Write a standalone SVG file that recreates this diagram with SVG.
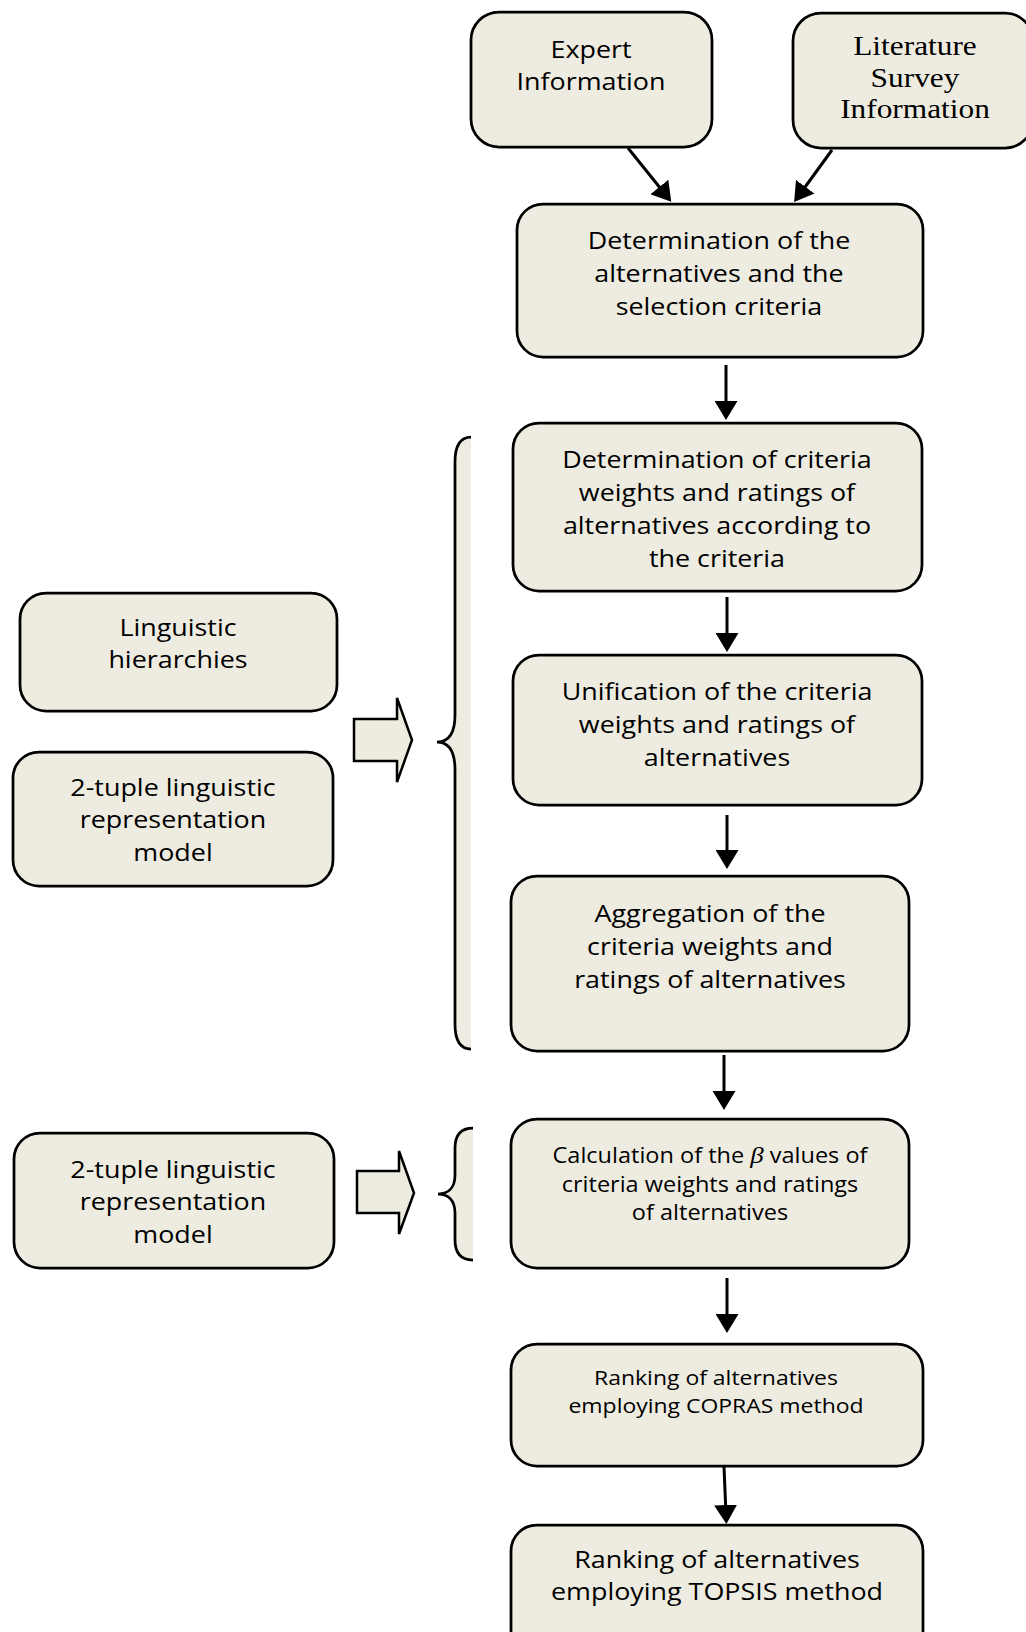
<svg xmlns="http://www.w3.org/2000/svg" width="1026" height="1632" viewBox="0 0 1026 1632">
<defs>
<style>
.box{fill:#EEECE1;stroke:#000;stroke-width:2.75}
.t{font-family:"Open Sans","Liberation Sans",sans-serif;font-size:24px;fill:#000;text-anchor:middle}
.s{font-size:21px}
.s2{font-size:20.5px}
.serif{font-family:"Liberation Serif","Times New Roman",serif;font-size:28px}
.beta{font-family:"Liberation Serif","Times New Roman",serif;font-style:italic;font-size:24px}
.conn line{stroke:#000;stroke-width:3;marker-end:url(#ah)}
.blk{fill:#EEECE1;stroke:#000;stroke-width:2.5;stroke-linejoin:miter}
.brf{fill:#EEECE1;stroke:none}
.brs{fill:none;stroke:#000;stroke-width:2.75}
</style>
<marker id="ah" viewBox="0 0 19 23" refX="9" refY="11.5" markerWidth="19" markerHeight="23" markerUnits="userSpaceOnUse" orient="auto">
<path d="M0,0 L19,11.5 L0,23 Z" fill="#000"/>
</marker>
</defs>
<rect width="1026" height="1632" fill="#fff"/>

<g id="expert">
<rect class="box" x="471" y="12" width="241" height="135" rx="28"/>
<text class="t" transform="translate(591 0) scale(1.12 1)"><tspan x="0" y="58">Expert</tspan><tspan x="0" y="90">Information</tspan></text>
</g>

<g id="literature">
<rect class="box" x="793" y="13" width="240" height="135" rx="28"/>
<text class="t serif" transform="translate(915 0) scale(1.12 1)"><tspan x="0" y="55">Literature</tspan><tspan x="0" y="87">Survey</tspan><tspan x="0" y="118">Information</tspan></text>
</g>

<g id="determination-alternatives">
<rect class="box" x="517" y="204" width="406" height="153" rx="26"/>
<text class="t" transform="translate(719 0) scale(1.12 1)"><tspan x="0" y="249">Determination of the</tspan><tspan x="0" y="282">alternatives and the</tspan><tspan x="0" y="315">selection criteria</tspan></text>
</g>

<g id="determination-weights">
<rect class="box" x="513" y="423" width="409" height="168" rx="26"/>
<text class="t" transform="translate(717 0) scale(1.12 1)"><tspan x="0" y="468">Determination of criteria</tspan><tspan x="0" y="501">weights and ratings of</tspan><tspan x="0" y="534">alternatives according to</tspan><tspan x="0" y="567">the criteria</tspan></text>
</g>

<g id="unification">
<rect class="box" x="513" y="655" width="409" height="150" rx="26"/>
<text class="t" transform="translate(717 0) scale(1.12 1)"><tspan x="0" y="700">Unification of the criteria</tspan><tspan x="0" y="733">weights and ratings of</tspan><tspan x="0" y="766">alternatives</tspan></text>
</g>

<g id="aggregation">
<rect class="box" x="511" y="876" width="398" height="175" rx="26"/>
<text class="t" transform="translate(710 0) scale(1.12 1)"><tspan x="0" y="922">Aggregation of the</tspan><tspan x="0" y="955">criteria weights and</tspan><tspan x="0" y="988">ratings of alternatives</tspan></text>
</g>

<g id="calculation">
<rect class="box" x="511" y="1119" width="398" height="149" rx="26"/>
<text class="t s" transform="translate(710 0) scale(1.12 1)"><tspan x="0" y="1163">Calculation of the <tspan class="beta">β</tspan> values of</tspan><tspan x="0" y="1192">criteria weights and ratings</tspan><tspan x="0" y="1220">of alternatives</tspan></text>
</g>

<g id="copras">
<rect class="box" x="511" y="1344" width="412" height="122" rx="26"/>
<text class="t s2" transform="translate(716 0) scale(1.12 1)"><tspan x="0" y="1385">Ranking of alternatives</tspan><tspan x="0" y="1413">employing COPRAS method</tspan></text>
</g>

<g id="topsis">
<rect class="box" x="511" y="1525" width="412" height="140" rx="26"/>
<text class="t" transform="translate(717 0) scale(1.12 1)"><tspan x="0" y="1568">Ranking of alternatives</tspan><tspan x="0" y="1600">employing TOPSIS method</tspan></text>
</g>

<g id="linguistic-hierarchies">
<rect class="box" x="20" y="593" width="317" height="118" rx="26"/>
<text class="t" transform="translate(178 0) scale(1.12 1)"><tspan x="0" y="636">Linguistic</tspan><tspan x="0" y="668">hierarchies</tspan></text>
</g>

<g id="two-tuple-upper">
<rect class="box" x="13" y="752" width="320" height="134" rx="26"/>
<text class="t" transform="translate(173 0) scale(1.12 1)"><tspan x="0" y="796">2-tuple linguistic</tspan><tspan x="0" y="828">representation</tspan><tspan x="0" y="861">model</tspan></text>
</g>

<g id="two-tuple-lower">
<rect class="box" x="14" y="1133" width="320" height="135" rx="26"/>
<text class="t" transform="translate(173 0) scale(1.12 1)"><tspan x="0" y="1178">2-tuple linguistic</tspan><tspan x="0" y="1210">representation</tspan><tspan x="0" y="1243">model</tspan></text>
</g>

<g id="brace-upper">
<path class="brf" d="M471,437 C460,437 455,445 455,462 L455,715 C455,735 448,742 437,742 C448,742 455,750 455,770 L455,1024 C455,1041 460,1049 471,1049 Z"/>
<path class="brs" d="M471,437 C460,437 455,445 455,462 L455,715 C455,735 448,742 437,742 C448,742 455,750 455,770 L455,1024 C455,1041 460,1049 471,1049"/>
</g>

<g id="brace-lower">
<path class="brf" d="M473,1128 C462,1128 455,1134 455,1148 L455,1175 C455,1188 448,1194 438,1194 C448,1194 455,1200 455,1213 L455,1240 C455,1254 462,1260 473,1260 Z"/>
<path class="brs" d="M473,1128 C462,1128 455,1134 455,1148 L455,1175 C455,1188 448,1194 438,1194 C448,1194 455,1200 455,1213 L455,1240 C455,1254 462,1260 473,1260"/>
</g>

<g id="block-arrow-upper">
<polygon class="blk" points="354,719 397,719 397,698 412,740 397,782 397,761 354,761"/>
</g>

<g id="block-arrow-lower">
<polygon class="blk" points="357,1171 399,1171 399,1151 414,1193 399,1234 399,1213 357,1213"/>
</g>

<g id="connectors" class="conn">
<line x1="628" y1="148" x2="665" y2="194"/>
<line x1="832" y1="150" x2="800" y2="194"/>
<line x1="726" y1="365" x2="726" y2="410"/>
<line x1="727" y1="597" x2="727" y2="642"/>
<line x1="727" y1="815" x2="727" y2="859"/>
<line x1="724" y1="1055" x2="724" y2="1100"/>
<line x1="727" y1="1278" x2="727" y2="1323"/>
<line x1="724" y1="1467" x2="726" y2="1514"/>
</g>
</svg>
